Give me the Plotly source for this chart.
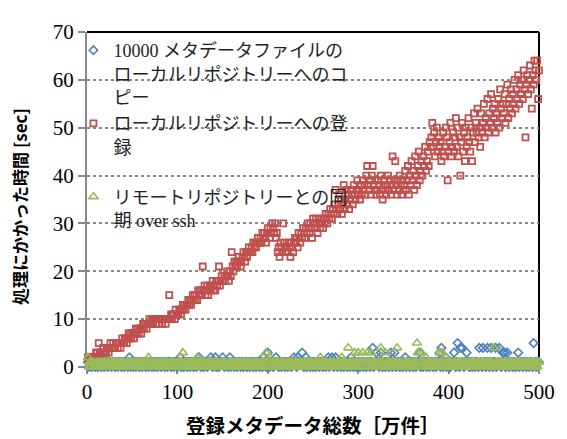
import plotly.graph_objects as go

# batch number (x 10000 files) -> 万件
batch = list(range(1, 501))

# 10000 メタデータファイルのローカルリポジトリーへのコピー [sec]
copy_sec = [
    1,0,1,1,0, 1,1,1,0,1, 1,0,1,1,1, 0,1,1,0,1, 1,1,0,1,1,
    1,0,1,1,1, 0,1,1,0,1, 1,1,0,1,1, 0,1,1,1,0, 1,2,0,1,1,
    0,1,1,0,1, 1,1,0,1,1, 0,1,1,1,0, 1,1,0,1,1, 1,0,1,1,0,
    1,1,0,1,1, 1,0,1,1,1, 0,1,1,0,1, 1,1,0,1,1, 0,1,1,1,0,
    1,1,2,0,1, 1,0,1,1,1, 0,1,1,0,1, 1,1,0,1,1, 0,1,1,2,1,
    0,1,1,0,1, 1,1,0,1,1, 1,2,1,0,1, 1,2,0,1,1, 0,1,1,1,2,
    1,0,1,1,1, 0,1,2,0,1, 1,1,0,1,1, 0,1,1,1,0, 1,1,0,1,1,
    1,0,1,1,0, 1,1,1,0,1, 1,0,1,1,1, 0,1,1,0,2, 1,1,0,1,3,
    1,0,1,1,1, 0,1,1,2,1, 1,0,1,1,0, 1,1,1,0,1, 1,0,1,1,1,
    0,1,1,2,1, 1,0,2,1,1, 1,1,3,1,0, 1,2,0,1,1, 1,0,1,1,0,
    1,1,0,1,1, 1,0,1,1,1, 0,1,1,0,1, 1,2,0,1,1, 2,1,0,1,2,
    1,0,1,1,1, 0,1,1,0,1, 1,1,0,1,1, 0,2,1,1,0, 1,1,0,1,1,
    1,0,1,1,1, 0,1,1,0,1, 1,1,0,1,1, 4,0,1,1,3, 1,1,0,1,3,
    1,0,1,1,0, 1,1,1,0,1, 3,1,0,1,3, 1,0,1,1,1, 0,1,1,0,1,
    1,2,0,1,1, 1,0,1,1,1, 0,1,1,0,1, 1,1,3,0,1, 1,0,1,1,1,
    0,1,1,0,1, 1,1,0,1,1, 0,1,1,1,3, 0,4,1,0,1, 1,2,0,1,1,
    1,0,1,1,1, 3,1,0,1,5, 1,0,4,1,4, 1,0,1,1,3, 1,1,0,1,1,
    0,1,1,0,1, 1,1,0,4,1, 1,0,4,1,1, 0,1,4,1,0, 1,4,1,0,1,
    1,4,0,1,1, 4,1,0,1,3, 1,3,0,1,3, 1,0,1,1,1, 0,1,1,0,1,
    1,3,0,1,1, 1,0,1,1,1, 0,1,1,0,1, 1,1,0,5,1, 1,0,1,1,1,
]

# ローカルリポジトリーへの登録 [sec]
register_sec = [
    2,1,2,1,2,2,1,2,2,3,
    3,2,5,3,3,2,3,4,3,3,
    3,4,4,3,4,5,4,4,5,4,
    4,5,5,4,5,5,4,5,6,5,
    5,6,6,5,6,7,6,7,6,7,
    7,6,7,8,7,8,7,8,8,7,
    8,9,8,9,9,8,9,9,10,9,
    9,10,9,10,10,9,10,10,9,10,
    10,10,9,10,10,10,9,10,10,10,
    15,10,11,10,11,11,10,12,11,11,
    11,12,12,11,12,13,12,13,12,13,
    13,14,13,14,13,14,15,14,15,14,
    15,14,16,15,16,15,16,21,16,17,
    15,16,17,15,16,17,16,17,18,16,
    17,16,18,17,18,21,17,18,19,18,
    18,19,18,19,20,19,18,20,19,24,
    21,20,22,21,22,21,22,23,22,21,
    22,23,24,23,22,24,23,24,25,24,
    24,25,24,26,25,26,25,26,27,26,
    26,27,26,28,27,28,27,26,28,29,
    28,27,29,28,30,29,28,30,27,28,
    24,25,23,26,25,24,30,26,25,24,
    25,24,26,25,23,26,25,24,26,27,
    26,27,25,28,27,26,28,27,29,28,
    27,29,28,30,29,28,30,29,27,31,
    30,29,31,30,28,31,30,29,31,30,
    29,31,30,32,31,30,32,31,33,32,
    31,33,32,34,37,33,32,34,36,33,
    35,32,34,38,33,35,37,34,36,33,
    35,37,36,34,38,36,35,37,39,36,
    37,35,38,36,39,37,38,36,40,42,
    38,37,39,36,40,42,38,37,39,36,
    37,39,38,36,40,37,35,38,39,37,
    36,38,40,37,39,36,38,44,37,39,
    43,38,36,39,37,40,38,36,39,37,
    38,41,37,39,42,36,40,38,43,39,
    41,37,44,40,38,42,45,39,41,43,
    40,44,42,46,41,43,45,42,47,46,
    48,51,46,49,44,47,50,45,48,46,
    47,43,45,49,44,46,50,48,39,45,
    47,51,44,46,49,45,48,52,46,50,
    44,48,40,47,51,45,49,43,50,46,
    48,52,47,45,50,43,49,53,47,51,
    49,54,48,50,46,53,49,51,55,48,
    52,50,56,49,53,51,57,50,54,52,
    55,49,53,51,56,50,58,54,52,55,
    53,57,51,55,59,52,56,54,58,53,
    57,55,60,54,58,56,61,55,59,57,
    60,56,62,58,48,59,61,57,60,63,
    58,54,61,59,64,62,60,64,56,62,
]

# リモートリポジトリーとの同期 over ssh [sec]
sync_sec = [
    2,0,1,0,1, 1,0,1,0,0, 1,1,0,1,0, 1,0,0,1,1, 0,1,0,1,0,
    1,0,1,1,0, 0,1,0,1,0, 1,0,1,1,0, 1,0,0,1,0, 1,1,0,0,1,
    0,1,0,1,1, 0,1,0,0,1, 1,0,1,0,1, 0,1,2,0,1, 0,1,1,0,0,
    1,0,1,0,1, 1,0,0,1,0, 1,1,0,1,0, 0,1,0,1,1, 0,1,0,0,1,
    1,0,1,0,1, 3,0,1,1,0, 0,1,0,1,0, 1,1,0,0,1, 0,2,1,0,1,
    0,1,0,1,1, 0,0,1,0,1, 1,0,1,0,0, 1,0,1,1,0, 1,0,0,1,0,
    1,1,0,1,0, 0,1,0,1,1, 0,1,0,0,1, 1,0,1,0,1, 0,0,1,1,0,
    1,0,1,0,1, 1,0,0,1,0, 1,1,0,1,0, 0,1,0,1,1, 0,1,3,0,1,
    0,1,2,1,0, 1,0,1,0,1, 1,0,0,1,0, 1,1,0,1,0, 0,1,0,1,1,
    0,1,0,0,1, 1,0,1,0,1, 0,1,1,0,0, 1,0,1,0,1, 1,0,1,0,0,
    1,0,1,1,0, 0,1,2,0,1, 0,1,0,1,1, 0,0,1,0,1, 1,0,1,0,0,
    1,0,1,0,1, 0,2,1,0,1, 1,0,0,4,1, 0,1,0,1,0, 3,1,0,1,3,
    0,1,0,1,3, 1,0,1,0,3, 1,0,1,3,0, 1,0,1,1,0, 0,1,0,1,4,
    1,0,1,0,3, 0,1,1,0,1, 0,1,0,1,1, 0,1,4,0,1, 1,0,1,0,0,
    1,0,1,0,1, 1,0,0,1,0, 1,1,0,1,5, 3,0,1,0,3, 1,0,1,0,2,
    0,1,0,1,1, 0,1,0,1,0, 1,0,1,0,3, 1,0,3,1,0, 0,2,1,0,1,
    1,0,1,0,0, 1,1,0,1,0, 1,0,1,1,0, 0,1,0,1,1, 0,1,0,0,1,
    1,0,1,0,1, 0,1,1,0,1, 0,1,0,1,0, 1,0,1,1,0, 1,0,1,0,4,
    0,1,0,1,1, 0,1,0,1,0, 1,1,0,1,0, 0,1,0,1,1, 0,1,0,0,1,
    1,0,1,0,1, 1,0,0,1,0, 1,0,1,1,0, 1,0,1,0,1, 0,1,0,1,1,
]

series_names = [
    "10000 メタデータファイルの<br>ローカルリポジトリーへのコ<br>ピー",
    "ローカルリポジトリーへの登<br>録<br>\u00a0",
    "リモートリポジトリーとの同<br>期 over ssh",
]
x_ticks = [0, 100, 200, 300, 400, 500]
y_ticks = [0, 10, 20, 30, 40, 50, 60, 70]
x_title = "登録メタデータ総数［万件］"
y_title = "処理にかかった時間 [sec]"

SERIF = "Liberation Serif, Noto Sans CJK JP, serif"
SANS = "Noto Sans CJK JP, sans-serif"

fig = go.Figure()
fig.add_trace(go.Scatter(
    x=batch, y=copy_sec, mode="markers", name=series_names[0], cliponaxis=False,
    marker=dict(symbol="diamond-open", size=6.5, color="#4F81BD", line=dict(width=1.6, color="#4F81BD")),
))
fig.add_trace(go.Scatter(
    x=batch, y=register_sec, mode="markers", name=series_names[1], cliponaxis=False,
    marker=dict(symbol="square-open", size=6, color="#C0504D", line=dict(width=1.8, color="#C0504D")),
))
fig.add_trace(go.Scatter(
    x=batch, y=sync_sec, mode="markers", name=series_names[2], cliponaxis=False,
    marker=dict(symbol="triangle-up-open", size=8, color="#9BBB59", line=dict(width=1.6, color="#9BBB59")),
))

# The page body has an 8px margin, so the figure is drawn 8px in from the top-left.
fig.update_layout(
    width=559, height=431,
    margin=dict(l=79, r=19, t=16, b=72),
    paper_bgcolor="white", plot_bgcolor="white",
    font=dict(family=SERIF, color="black"),
    showlegend=True,
    legend=dict(
        x=-0.03, y=1.0, xanchor="left", yanchor="top",
        bgcolor="rgba(0,0,0,0)", borderwidth=0,
        font=dict(family=SERIF, size=18, color="#222"),
        valign="top", itemwidth=30, tracegroupgap=0,
    ),
    xaxis=dict(
        range=[0, 500], tickvals=x_ticks, ticktext=[str(v) for v in x_ticks],
        showgrid=False, zeroline=False,
        showline=True, linecolor="#888888", linewidth=2,
        ticks="outside", ticklen=5, tickwidth=2, tickcolor="#888888",
        tickfont=dict(family=SERIF, size=21, color="black"),
        layer="below traces",
    ),
    yaxis=dict(
        range=[0, 70], tickvals=y_ticks, ticktext=[str(v) for v in y_ticks],
        showgrid=True, gridcolor="#888888", gridwidth=1.5, griddash="dot",
        zeroline=False,
        showline=True, linecolor="#888888", linewidth=2,
        ticks="outside", ticklen=7, tickwidth=2, tickcolor="#888888",
        tickfont=dict(family=SERIF, size=21, color="black"),
        layer="below traces",
    ),
    shapes=[
        dict(type="line", xref="paper", yref="paper", x0=0, x1=1, y0=1, y1=1,
             line=dict(color="black", width=2), layer="below"),
        dict(type="line", xref="paper", yref="paper", x0=1, x1=1, y0=0, y1=1,
             line=dict(color="black", width=2), layer="below"),
    ],
    annotations=[
        dict(text="<b>" + x_title + "</b>", xref="paper", yref="paper",
             x=0.5, y=-0.171, xanchor="center", yanchor="middle", showarrow=False,
             font=dict(family=SANS, size=19.5, color="black")),
        dict(text="<b>" + y_title + "</b>", xref="paper", yref="paper",
             x=-0.148, y=0.478, xanchor="center", yanchor="middle", showarrow=False,
             textangle=-90, font=dict(family=SANS, size=17, color="black")),
    ],
)

fig.write_html("out.html")
